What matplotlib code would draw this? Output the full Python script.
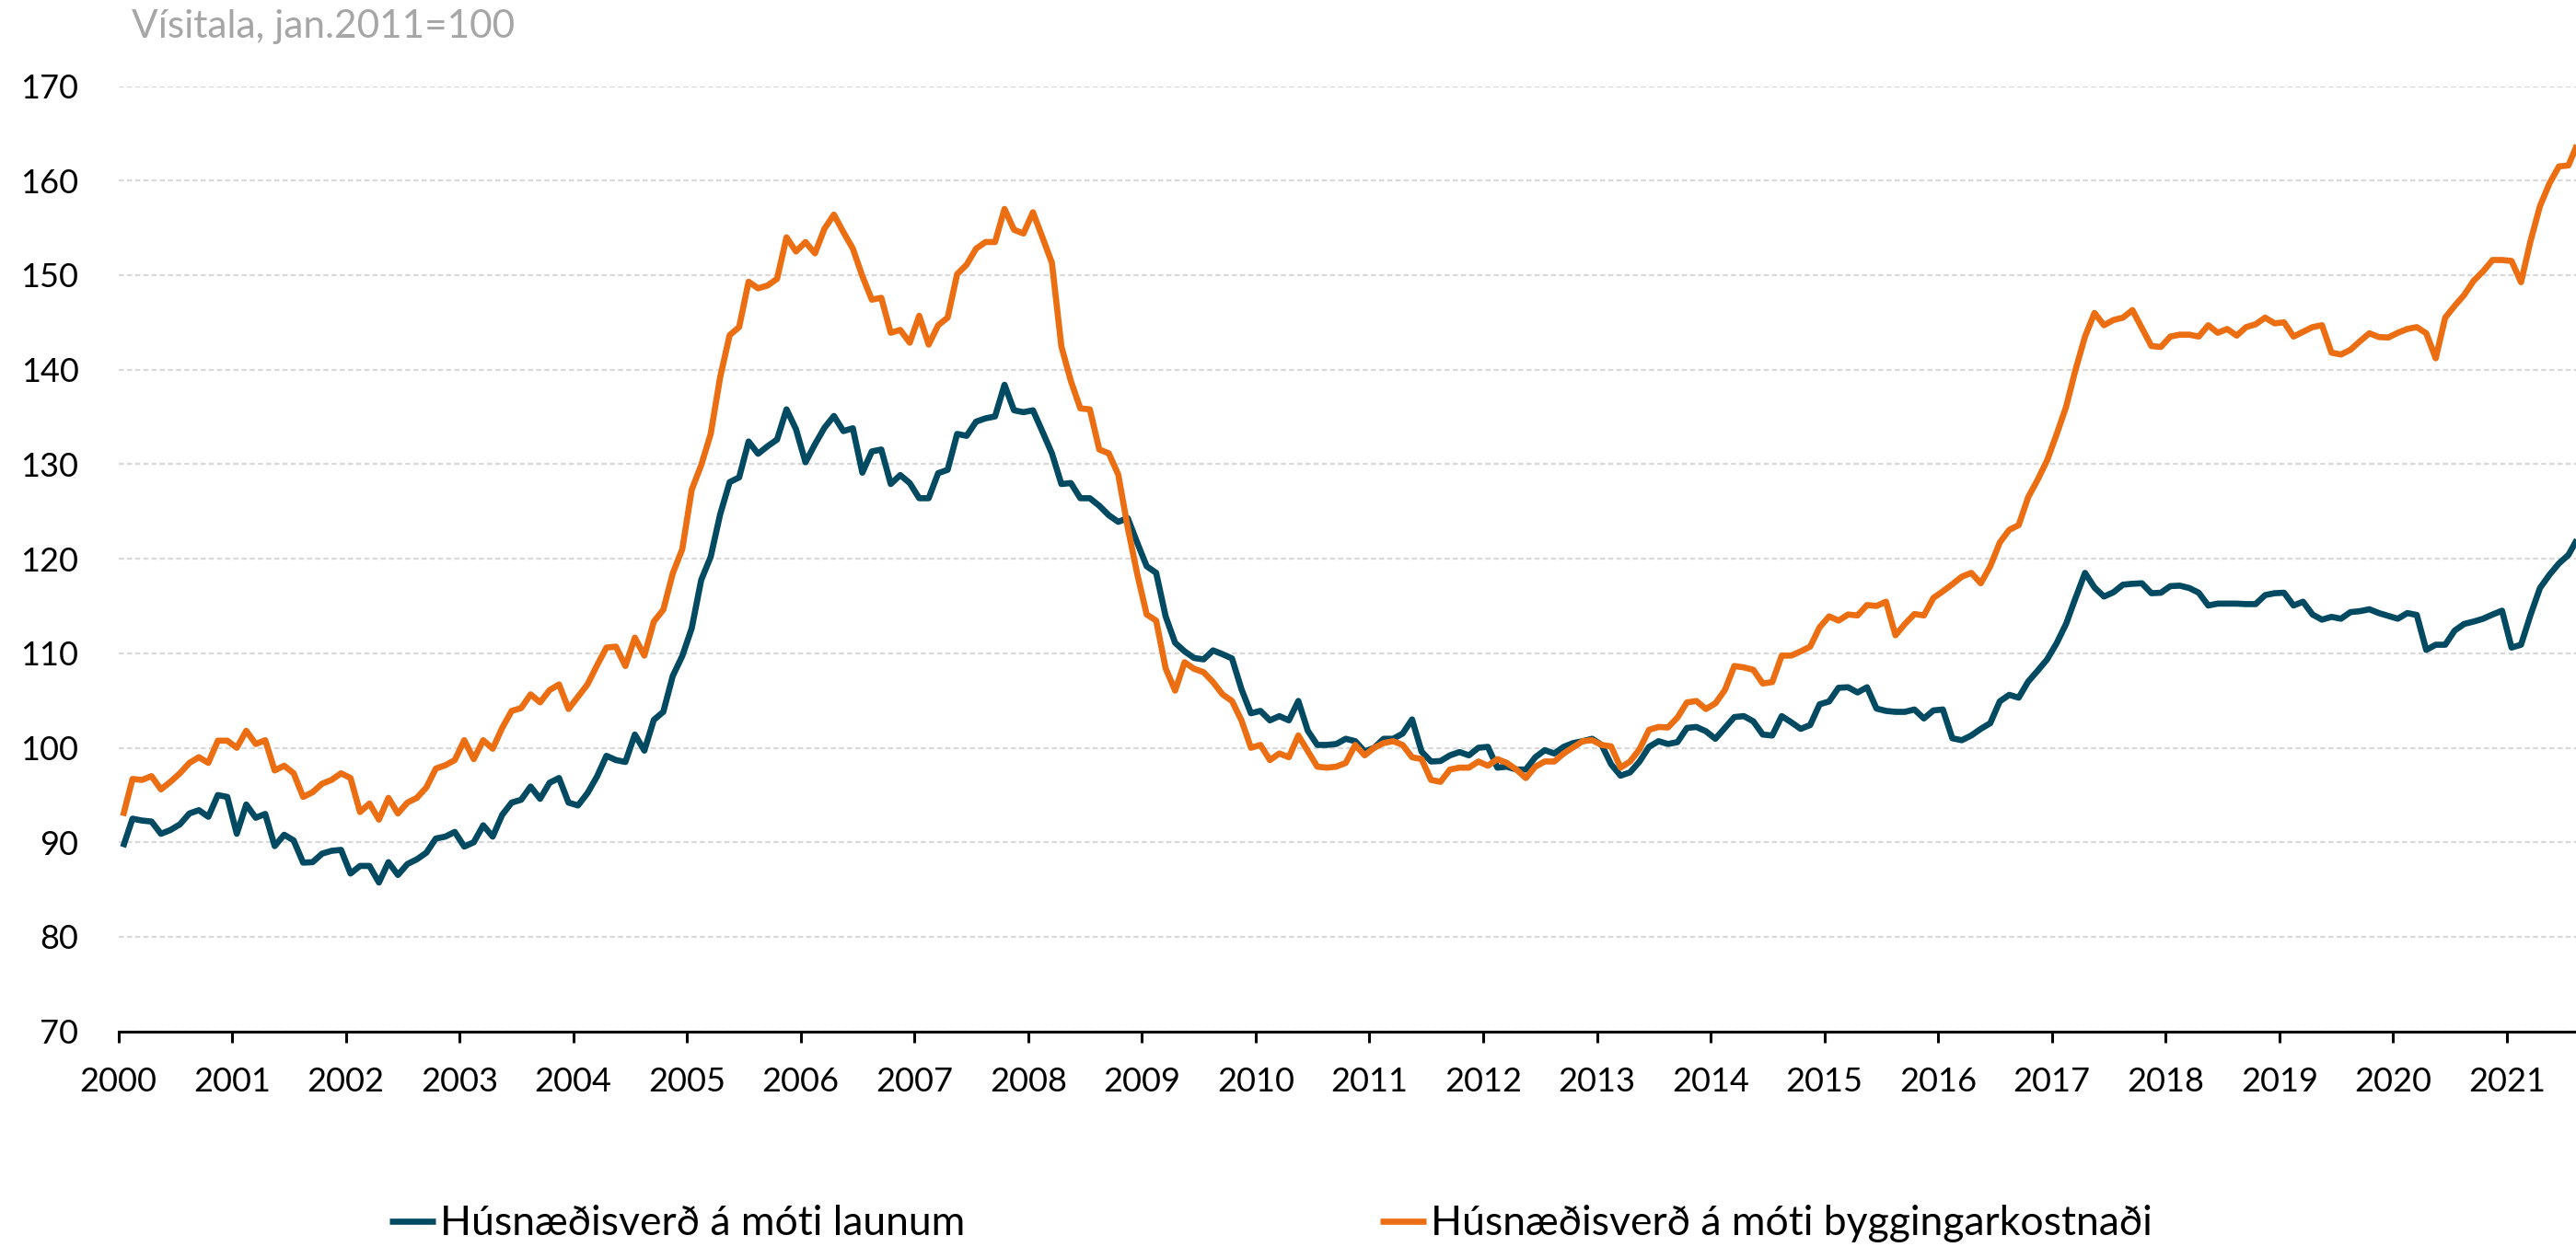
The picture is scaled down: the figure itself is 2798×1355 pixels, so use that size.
import matplotlib
matplotlib.use('Agg')
import matplotlib.pyplot as plt
from matplotlib.lines import Line2D
import numpy as np

# ---- data (monthly, Jan 2000 - Aug 2021) ----
year_labels = [str(y) for y in range(2000, 2022)]
series_names = ['Húsnæðisverð á móti launum', 'Húsnæðisverð á móti byggingarkostnaði']
y_ticks = [70, 80, 90, 100, 110, 120, 130, 140, 150, 160, 170]

laun = [
    89.5, 92.5, 92.3, 92.2, 90.9, 91.3, 91.9, 93.05, 93.4, 92.7, 95.0, 94.8,
    90.9, 94.0, 92.6, 93.0, 89.6, 90.8, 90.2, 87.85, 87.9, 88.8, 89.1, 89.2,
    86.7, 87.5, 87.5, 85.75, 87.9, 86.55, 87.7, 88.2, 88.9, 90.4, 90.6, 91.1,
    89.55, 90.0, 91.8, 90.6, 92.9, 94.2, 94.5, 95.9, 94.6, 96.3, 96.8, 94.2,
    93.9, 95.2, 96.95, 99.15, 98.7, 98.5, 101.4, 99.7, 102.95, 103.8, 107.6, 109.7,
    112.65, 117.75, 120.2, 124.7, 128.1, 128.6, 132.4, 131.1, 131.9, 132.6, 135.8, 133.7,
    130.2, 132.1, 133.85, 135.1, 133.5, 133.8, 129.1, 131.35, 131.55, 127.9, 128.85, 128.0,
    126.4, 126.4, 129.05, 129.4, 133.2, 133.0, 134.5, 134.85, 135.05, 138.4, 135.7, 135.5,
    135.7, 133.45, 131.15, 127.9, 128.0, 126.4, 126.4, 125.6, 124.6, 123.9, 124.3, 121.7,
    119.2, 118.5, 113.9, 111.1, 110.2, 109.5, 109.35, 110.3, 109.9, 109.45, 106.2, 103.65,
    103.9, 102.9, 103.35, 102.9, 104.95, 101.8, 100.3, 100.3, 100.4, 100.95, 100.7, 99.6,
    100.0, 100.95, 100.95, 101.5, 103.0, 99.6, 98.55, 98.6, 99.2, 99.55, 99.2, 100.0,
    100.1, 97.9, 98.0, 97.7, 97.7, 99.0, 99.75, 99.4, 100.1, 100.5, 100.7, 100.95,
    100.3, 98.25, 97.05, 97.4, 98.55, 100.1, 100.7, 100.4, 100.6, 102.1, 102.2, 101.75,
    100.95, 102.1, 103.25, 103.35, 102.8, 101.4, 101.3, 103.35, 102.7, 102.0, 102.4, 104.6,
    104.9, 106.35, 106.4, 105.85, 106.4, 104.15, 103.9, 103.8, 103.8, 104.05, 103.1, 103.95,
    104.05, 101.0, 100.8, 101.3, 102.0, 102.6, 104.9, 105.6, 105.3, 107.0, 108.15, 109.35,
    111.05, 113.1, 115.85, 118.5, 116.95, 116.0, 116.45, 117.25, 117.35, 117.4, 116.35, 116.4,
    117.1, 117.15, 116.9, 116.4, 115.05, 115.25, 115.25, 115.25, 115.2, 115.2, 116.15, 116.35,
    116.4, 115.05, 115.45, 114.1, 113.55, 113.85, 113.65, 114.35, 114.45, 114.65, 114.25, 113.95,
    113.65, 114.25, 114.05, 110.35, 110.9, 110.9, 112.4, 113.1, 113.35, 113.65, 114.1, 114.5,
    110.6, 110.9, 114.05, 116.9, 118.3, 119.5, 120.4, 122.2,
]

bygg = [
    92.8, 96.7, 96.6, 97.0, 95.6, 96.4, 97.3, 98.4, 99.0, 98.4, 100.75, 100.75,
    100.0, 101.8, 100.4, 100.8, 97.6, 98.1, 97.3, 94.8, 95.3, 96.2, 96.6, 97.3,
    96.8, 93.2, 94.1, 92.4, 94.7, 93.05, 94.2, 94.7, 95.8, 97.8, 98.15, 98.7,
    100.8, 98.8, 100.8, 99.9, 102.1, 103.9, 104.2, 105.65, 104.8, 106.1, 106.7, 104.1,
    105.4, 106.7, 108.7, 110.6, 110.7, 108.65, 111.65, 109.75, 113.35, 114.6, 118.45, 121.0,
    127.3, 129.9, 133.2, 139.2, 143.65, 144.5, 149.3, 148.6, 148.9, 149.6, 154.0, 152.5,
    153.5, 152.3, 154.9, 156.4, 154.55, 152.8, 149.9, 147.4, 147.6, 143.9, 144.2, 142.85,
    145.7, 142.65, 144.7, 145.5, 150.1, 151.1, 152.8, 153.5, 153.5, 157.0, 154.8, 154.4,
    156.65, 154.0, 151.3, 142.45, 138.8, 135.9, 135.8, 131.55, 131.15, 128.9, 123.3, 118.4,
    114.1, 113.45, 108.4, 106.05, 109.05, 108.35, 108.0, 106.95, 105.65, 104.95, 102.9, 100.0,
    100.3, 98.7, 99.4, 99.0, 101.3, 99.65, 98.0, 97.9, 98.0, 98.4, 100.3, 99.2,
    100.0, 100.5, 100.7, 100.3, 99.0, 98.8, 96.6, 96.4, 97.7, 97.9, 97.9, 98.55,
    98.1, 98.8, 98.4, 97.7, 96.8, 98.0, 98.55, 98.55, 99.4, 100.05, 100.7, 100.8,
    100.3, 100.15, 97.9, 98.55, 99.85, 101.9, 102.2, 102.15, 103.2, 104.8, 104.95, 104.1,
    104.7, 106.1, 108.65, 108.5, 108.25, 106.8, 106.95, 109.75, 109.75, 110.2, 110.7, 112.75,
    113.9, 113.45, 114.1, 114.0, 115.1, 115.0, 115.45, 111.9, 113.1, 114.15, 114.0, 115.85,
    116.55, 117.3, 118.1, 118.5, 117.4, 119.2, 121.7, 123.05, 123.55, 126.5, 128.35, 130.4,
    133.15, 136.05, 140.0, 143.5, 146.0, 144.7, 145.25, 145.5, 146.3, 144.4, 142.5, 142.4,
    143.5, 143.7, 143.7, 143.5, 144.7, 143.9, 144.3, 143.6, 144.5, 144.8, 145.5, 144.9,
    145.0, 143.5, 144.0, 144.5, 144.7, 141.8, 141.6, 142.1, 143.0, 143.85, 143.45, 143.4,
    143.9, 144.3, 144.5, 143.85, 141.2, 145.5, 146.75, 147.9, 149.4, 150.4, 151.6, 151.6,
    151.5, 149.25, 153.6, 157.3, 159.7, 161.5, 161.6, 164.0,
]

BLUE = '#014a62'
ORANGE = '#ec6e13'

plt.rcParams['font.family'] = ['Lato', 'DejaVu Sans']

W, H = 2798, 1355
fig = plt.figure(figsize=(W / 100, H / 100), dpi=100)
left_px, top_px, bottom_px = 128.5, 93.5, 1120.7
ax = fig.add_axes([left_px / W, 1 - bottom_px / H, 1 - left_px / W, (bottom_px - top_px) / H])

x = np.arange(len(laun)) + 0.5
lw = 4.8
ax.plot(x, laun, color=BLUE, lw=lw, solid_joinstyle='round', solid_capstyle='butt', zorder=3)
ax.plot(x, bygg, color=ORANGE, lw=lw, solid_joinstyle='round', solid_capstyle='butt', zorder=3)

ax.set_xlim(0, 259.3)
ax.set_ylim(70, 170)
ax.set_yticks(y_ticks)
ax.set_xticks([12 * i for i in range(len(year_labels))])
ax.set_xticklabels(year_labels)

ax.yaxis.grid(True, color='#d9d9d9', lw=1.6, linestyle=(0, (2.5, 1.5)))
ax.xaxis.grid(False)
ax.set_axisbelow(True)

for s in ['top', 'right', 'left']:
    ax.spines[s].set_visible(False)
ax.spines['bottom'].set_color('black')
ax.spines['bottom'].set_linewidth(2.2)
ax.spines['bottom'].set_zorder(4)

ax.tick_params(axis='x', length=8.6, width=2.2, direction='out', pad=19,
               labelsize=26, colors='black')
ax.tick_params(axis='y', length=0, pad=31, labelsize=26, colors='black')

fig.text(143 / W, 1 - 10 / H, 'Vísitala, jan.2011=100', color='#a6a6a6',
         fontsize=30.5, ha='left', va='top')

leg_fs = 32
leg_y = 1 - 1330 / H
for name, col, xpos in [(series_names[0], BLUE, 423), (series_names[1], ORANGE, 1499)]:
    fig.legend(handles=[Line2D([], [], color=col, lw=lw, solid_capstyle='butt')],
               labels=[name], loc='center left', bbox_to_anchor=(xpos / W, leg_y),
               frameon=False, handlelength=50 / (leg_fs * 1.389), handletextpad=0.12,
               borderpad=0, borderaxespad=0, fontsize=leg_fs)

fig.savefig('out.png', dpi=100)
